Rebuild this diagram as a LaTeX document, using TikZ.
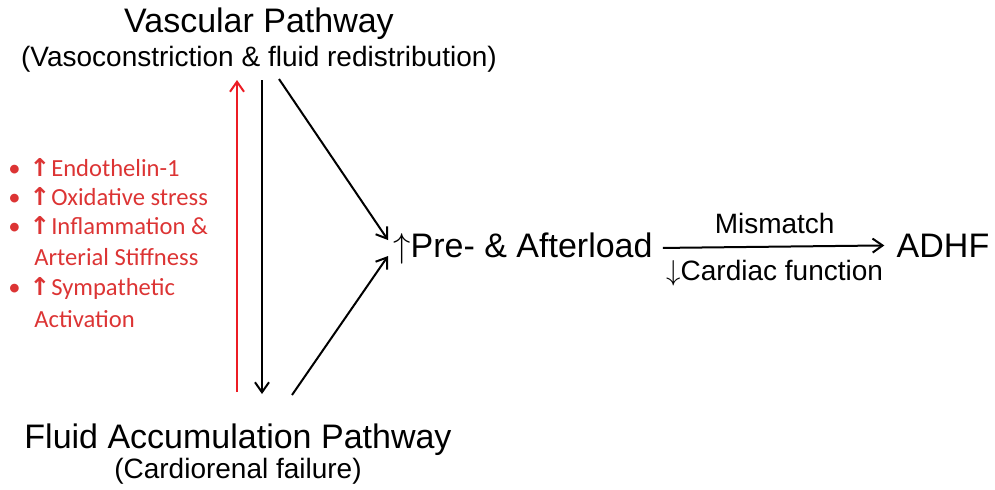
\documentclass[tikz,border=0pt]{standalone}
\usepackage{fontspec}
\setmainfont{Liberation Sans}
\newfontfamily\listfont{Carlito}
\newfontfamily\symfont{DejaVu Sans}
\usetikzlibrary{arrows.meta}
\definecolor{riskred}{RGB}{220,52,52}
\definecolor{arrowred}{RGB}{236,28,36}
\newcommand{\upmark}{{\symfont\bfseries ↑}}
\newcommand{\riskbul}{\textbullet\hspace{4.5pt}\upmark\hspace{0.5pt}}

\begin{document}
\begin{tikzpicture}[x=0.5pt, y=-0.5pt, >={Straight Barb[length=5pt,width=7pt]}]
    \tikzset{
        bigtext/.style={font=\fontsize{17}{20}\selectfont, inner sep=0pt, anchor=base},
        subtext/.style={font=\fontsize{14}{17}\selectfont, inner sep=0pt, anchor=base},
        risk/.style={font=\listfont\fontsize{12.3}{15}\selectfont, text=riskred, inner sep=0pt, anchor=base west},
        link/.style={->, line width=1pt}
    }
    \useasboundingbox (0,0) rectangle (995,489);

    % titles of the two pathways
    \node[bigtext] (vasc) at (259,32) {Vascular Pathway};
    \node[subtext] (vascsub) at (259,66) {(Vasoconstriction \& fluid redistribution)};
    \node[bigtext] (fluid) at (238,448) {Fluid Accumulation Pathway};
    \node[subtext] (fluidsub) at (238,478) {(Cardiorenal failure)};

    % red list of mediators
    \foreach \x/\y/\t [count=\i] in {8/176/{\riskbul Endothelin-1},
            8/205/{\riskbul Oxidative stress},
            8/234/{\riskbul Inflammation \&},
            34/265/{Arterial Stiffness},
            8/295/{\riskbul Sympathetic},
            34/327/{Activation}}
        \node[risk] (risk\i) at (\x,\y) {\t};

    % outcome nodes
    \node[bigtext, anchor=base west] (load) at (393,257) {$\uparrow$Pre- \& Afterload};
    \node[bigtext] (adhf) at (943,257) {ADHF};

    % free ends of the pathway arrows
    \coordinate (redlo) at (237,392);
    \coordinate (redhi) at (237,80);
    \coordinate (downhi) at (262,80);
    \coordinate (downlo) at (262,394);
    \coordinate (vascend) at (279,79);
    \coordinate (fluidend) at (292,395);

    \draw[link, draw=arrowred] (redlo) -- (redhi);
    \draw[link] (downhi) -- (downlo);
    \draw[link] (vascend) -- ([shift={(-5,-8)}]load.west);
    \draw[link] (fluidend) -- ([shift={(-5,8)}]load.west);

    \draw[link, shorten <=5pt, shorten >=6pt] (load.east) -- (adhf.west)
        node[midway, above=2.5pt, font=\fontsize{14}{17}\selectfont] (mism) {Mismatch}
        node[midway, below=3pt, font=\fontsize{14}{17}\selectfont] (cardiac) {$\downarrow$Cardiac function};
\end{tikzpicture}
\end{document}
